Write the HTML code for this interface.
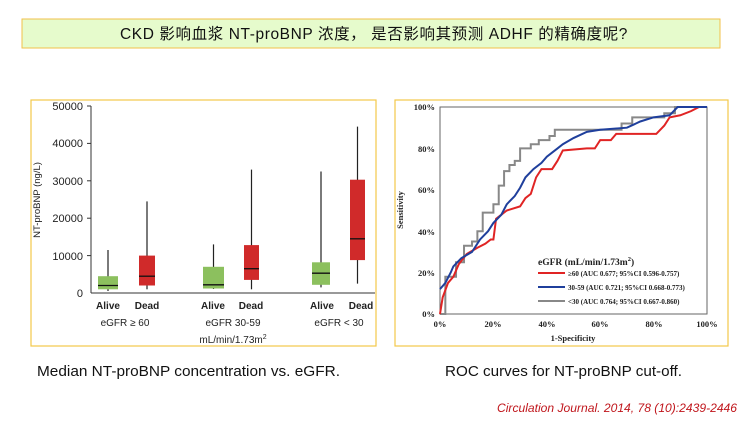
<!DOCTYPE html>
<html><head><meta charset="utf-8"><style>
body{margin:0;background:#fff;width:748px;height:422px;overflow:hidden;position:relative}
</style></head><body>
<svg width="748" height="422" viewBox="0 0 748 422" xmlns="http://www.w3.org/2000/svg" style="position:absolute;left:0;top:0">
<rect x="22" y="19" width="698" height="29" fill="#e6fbcc" stroke="#f2c24a" stroke-width="1"/>
<text x="374" y="39" text-anchor="middle" font-family="Liberation Sans, Noto Sans CJK SC, sans-serif" font-size="15.5" letter-spacing="0.6" fill="#111">CKD 影响血浆 NT-proBNP 浓度，  是否影响其预测  ADHF 的精确度呢?</text>

<rect x="31" y="100" width="345" height="246" fill="#fff" stroke="#f2c84a" stroke-width="1.2"/>
<g font-family="Liberation Sans, sans-serif" font-size="11" fill="#222" text-anchor="end">
<text x="83" y="110">50000</text><text x="83" y="147">40000</text><text x="83" y="185">30000</text>
<text x="83" y="222">20000</text><text x="83" y="260">10000</text><text x="83" y="297">0</text>
</g>
<g stroke="#333" stroke-width="1">
<line x1="91" y1="106" x2="91" y2="293"/><line x1="91" y1="293" x2="375" y2="293"/>
<line x1="87" y1="106" x2="91" y2="106"/><line x1="87" y1="143.4" x2="91" y2="143.4"/><line x1="87" y1="180.8" x2="91" y2="180.8"/><line x1="87" y1="218.2" x2="91" y2="218.2"/><line x1="87" y1="255.6" x2="91" y2="255.6"/>
</g>
<text transform="translate(40,200) rotate(-90)" text-anchor="middle" font-family="Liberation Sans, sans-serif" font-size="9.5" fill="#222">NT-proBNP (ng/L)</text>
<g stroke="#222" stroke-width="1.2">
<line x1="108" y1="250" x2="108" y2="291"/>
<line x1="147" y1="201.4" x2="147" y2="289.3"/>
<line x1="213.5" y1="244.4" x2="213.5" y2="289"/>
<line x1="251.5" y1="169.6" x2="251.5" y2="289.3"/>
<line x1="321" y1="171.5" x2="321" y2="287.4"/>
<line x1="357.5" y1="126.6" x2="357.5" y2="283.6"/>
</g>
<g fill="#8cc05e"><rect x="98" y="276.2" width="20" height="13.1"/><rect x="203" y="266.8" width="21" height="21.7"/><rect x="312" y="262.3" width="18" height="22.5"/></g>
<g fill="#d02a2a"><rect x="139" y="255.6" width="16" height="29.9"/><rect x="244" y="245.1" width="15" height="34.8"/><rect x="350" y="179.7" width="15" height="80.4"/></g>
<g stroke="#111" stroke-width="1.3">
<line x1="98" y1="285.5" x2="118" y2="285.5"/><line x1="139" y1="276.2" x2="155" y2="276.2"/>
<line x1="203" y1="284.8" x2="224" y2="284.8"/><line x1="244" y1="268.7" x2="259" y2="268.7"/>
<line x1="312" y1="273.2" x2="330" y2="273.2"/><line x1="350" y1="238.8" x2="365" y2="238.8"/>
</g>
<g font-family="Liberation Sans, sans-serif" font-size="10" font-weight="bold" fill="#222" text-anchor="middle">
<text x="108" y="309">Alive</text><text x="147" y="309">Dead</text>
<text x="213" y="309">Alive</text><text x="251" y="309">Dead</text>
<text x="322" y="309">Alive</text><text x="361" y="309">Dead</text>
</g>
<g font-family="Liberation Sans, sans-serif" font-size="10" fill="#222" text-anchor="middle">
<text x="125" y="326">eGFR ≥ 60</text><text x="233" y="326">eGFR 30-59</text><text x="339" y="326">eGFR &lt; 30</text>
<text x="233" y="343">mL/min/1.73m<tspan font-size="7" dy="-4">2</tspan></text>
</g>

<rect x="395" y="100" width="333" height="246" fill="#fff" stroke="#f2c84a" stroke-width="1.2"/>
<rect x="440" y="107" width="267" height="207" fill="none" stroke="#666" stroke-width="1"/>
<g font-family="Liberation Serif, serif" font-size="8.5" font-weight="bold" fill="#222" text-anchor="end">
<text x="435" y="110">100%</text><text x="435" y="152">80%</text><text x="435" y="193">60%</text>
<text x="435" y="235">40%</text><text x="435" y="276">20%</text><text x="435" y="317">0%</text>
</g>
<g font-family="Liberation Serif, serif" font-size="8.5" font-weight="bold" fill="#222" text-anchor="middle">
<text x="440" y="327">0%</text><text x="493" y="327">20%</text><text x="547" y="327">40%</text>
<text x="600" y="327">60%</text><text x="654" y="327">80%</text><text x="707" y="327">100%</text>
<text x="573" y="341">1-Specificity</text>
<text transform="translate(403,210) rotate(-90)">Sensitivity</text>
</g>
<g transform="translate(440,314) scale(2.67,-2.07)" fill="none" stroke-width="2">
<polyline vector-effect="non-scaling-stroke" stroke="#888" points="0,0 2,0 2,18 6,18 6,25 9,25 9,33 12,33 12,35 14,35 14,40 16,40 16,49 20,49 20,53 22,53 22,62 24,62 24,69 26,69 26,72 28,72 28,74 30,74 30,80 34,80 34,82 37,82 37,84 41,84 41,86 43,86 43,89 68,89 68,92 72,92 72,95 84,95 84,97 88,97 88,100 100,100"/>
<polyline vector-effect="non-scaling-stroke" stroke="#e02424" points="0,0 1,8 3,15 5,18 7,24 10,29 14,32 17,34 19,36 20,36 21,46 25,50 30,52 32,56 34,58 36,66 38,70 42,70 44,74 46,79 55,80 58,80 60,84 64,84 66,87 81,87 84,91 86,95 90,96 94,98 97,100 100,100"/>
<polyline vector-effect="non-scaling-stroke" stroke="#1f3f9c" points="0,12 2,15 4,20 5,23 8,27 12,30 15,36 18,40 20,44 23,48 25,53 28,57 30,61 32,66 35,70 38,73 40,76 42,78 44,80 46,82 50,85 55,88 60,89 70,90 75,93 80,95 86,96 89,100 100,100"/>
</g>
<text x="538" y="265" font-family="Liberation Serif, serif" font-size="9.5" font-weight="bold" fill="#222">eGFR (mL/min/1.73m<tspan font-size="6.5" dy="-4">2</tspan><tspan dy="4">)</tspan></text>
<g stroke-width="2"><line x1="538" y1="273" x2="565" y2="273" stroke="#e02424"/><line x1="538" y1="287" x2="565" y2="287" stroke="#1f3f9c"/><line x1="538" y1="301" x2="565" y2="301" stroke="#888"/></g>
<g font-family="Liberation Serif, serif" font-size="7" font-weight="bold" fill="#222">
<text x="568" y="276">≥60 (AUC 0.677; 95%CI 0.596-0.757)</text>
<text x="568" y="290">30-59 (AUC 0.721; 95%CI 0.668-0.773)</text>
<text x="568" y="304">&lt;30 (AUC 0.764; 95%CI 0.667-0.860)</text>
</g>

<g font-family="Liberation Sans, sans-serif" font-size="15" fill="#111">
<text x="37" y="376" textLength="303" lengthAdjust="spacingAndGlyphs">Median NT-proBNP concentration vs. eGFR.</text>
<text x="445" y="376" textLength="237" lengthAdjust="spacingAndGlyphs">ROC curves for NT-proBNP cut-off.</text>
</g>
<text x="737" y="412" text-anchor="end" textLength="240" lengthAdjust="spacingAndGlyphs" font-family="Liberation Sans, sans-serif" font-size="11.5" font-style="italic" fill="#c0161c">Circulation Journal.  2014, 78 (10):2439-2446</text>
</svg>
</body></html>
